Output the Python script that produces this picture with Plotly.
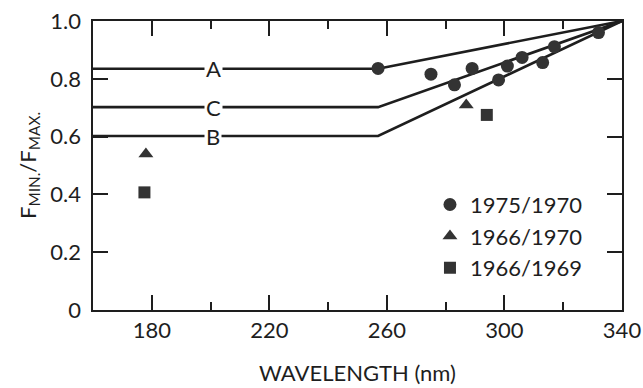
import plotly.graph_objects as go

# ---- data ----
circ_x = [257, 275, 283, 289, 298, 301, 306, 313, 317, 332]
circ_y = [0.836, 0.816, 0.779, 0.836, 0.796, 0.844, 0.874, 0.856, 0.911, 0.96]
tri_x = [178, 287]
tri_y = [0.54, 0.709]
sq_x = [177.5, 294]
sq_y = [0.407, 0.675]

line_names = ["A", "C", "B"]
line_x = [160, 257, 340]
line_levels = [0.835, 0.702, 0.602]
line_end = 1.0
label_x = 201

y_tickvals = [0, 0.2, 0.4, 0.6, 0.8, 1.0]
y_ticktext = ["0\u00a0", "0.2\u00a0", "0.4\u00a0", "0.6\u00a0", "0.8\u00a0", "1.0\u00a0"]

INK = "#1e1e1e"
MARK = "#333333"
FONT = "Lato"
FS = 22

fig = go.Figure()

for name, lvl in zip(line_names, line_levels):
    fig.add_trace(go.Scatter(
        x=line_x, y=[lvl, lvl, line_end], mode="lines",
        line=dict(color=INK, width=2.6), showlegend=False, hoverinfo="skip"))
    fig.add_annotation(x=label_x, y=lvl, text=name, showarrow=False,
                       font=dict(size=FS, color=INK, family=FONT),
                       bgcolor="white", borderpad=1)

fig.add_trace(go.Scatter(x=circ_x, y=circ_y, mode="markers", name="1975/1970",
                         marker=dict(symbol="circle", size=13, color=MARK)))
fig.add_trace(go.Scatter(x=tri_x, y=tri_y, mode="markers", name="1966/1970",
                         marker=dict(symbol="triangle-up", size=13, color=MARK)))
fig.add_trace(go.Scatter(x=sq_x, y=sq_y, mode="markers", name="1966/1969",
                         marker=dict(symbol="square", size=12, color=MARK)))

fig.update_layout(
    width=643, height=388,
    margin=dict(l=93, r=21, t=21, b=78),
    plot_bgcolor="white", paper_bgcolor="white",
    font=dict(family=FONT, size=FS, color=INK),
    legend=dict(x=0.637, y=0.437, xanchor="left", yanchor="top",
                bgcolor="rgba(0,0,0,0)", font=dict(size=FS, family=FONT, color=INK),
                itemwidth=30, tracegroupgap=0),
    xaxis=dict(
        range=[160, 340], tickmode="linear", tick0=180, dtick=40,
        ticks="inside", ticklen=15, tickwidth=2, tickcolor=INK,
        minor=dict(tickmode="linear", tick0=160, dtick=20, ticks="inside", ticklen=8,
                   tickwidth=2, tickcolor=INK, showgrid=False),
        showline=True, linewidth=2, linecolor=INK, mirror="allticks",
        showgrid=False, zeroline=False, automargin=False,
        title=dict(text="WAVELENGTH (nm)", standoff=23,
                   font=dict(size=FS, family=FONT, color=INK)),
    ),
    yaxis=dict(
        range=[0, 1.0], tickvals=y_tickvals, ticktext=y_ticktext,
        ticks="inside", ticklen=15, tickwidth=2, tickcolor=INK,
        showline=True, linewidth=2, linecolor=INK, mirror="allticks",
        showgrid=False, zeroline=False, automargin=False,
        title=dict(text="F<sub>MIN.</sub>/F<sub>MAX.</sub>", standoff=8,
                   font=dict(size=FS, family=FONT, color=INK)),
    ),
)

fig.write_html("out.html", config={"displayModeBar": False},
               post_script="document.body.style.margin='0';document.body.style.padding='0';")
